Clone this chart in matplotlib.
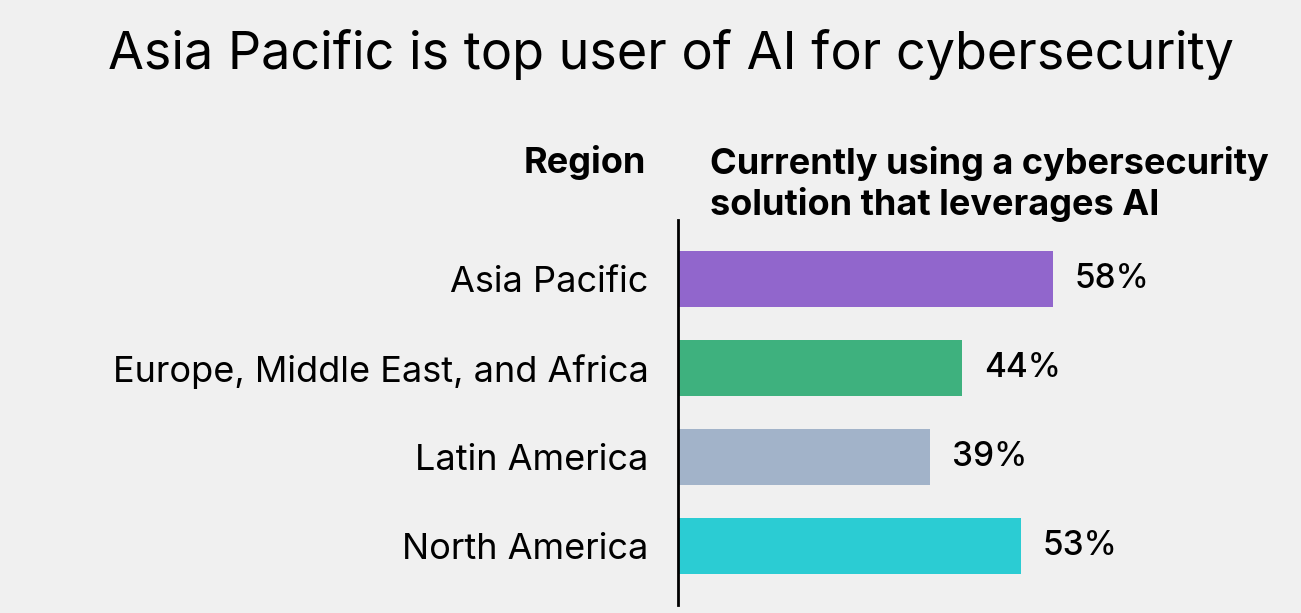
import matplotlib
matplotlib.use("Agg")
import matplotlib.pyplot as plt

regions = ["Asia Pacific", "Europe, Middle East, and Africa", "Latin America", "North America"]
values = [58, 44, 39, 53]
colors = ["#9166CC", "#3EB17E", "#A2B3C9", "#2BCCD3"]
labels = ["58%", "44%", "39%", "53%"]

plt.rcParams['font.family'] = ['Inter', 'DejaVu Sans']
BG = "#F0F0F0"
W, H = 1301, 613
fig = plt.figure(figsize=(W/100, H/100), dpi=100, facecolor=BG)

px_per_unit = 375/58.0
ax_left, ax_right = 678, 1290
ax_top, ax_bot = 220, 605
ax = fig.add_axes([ax_left/W, (H-ax_bot)/H, (ax_right-ax_left)/W, (ax_bot-ax_top)/H])
ax.set_facecolor(BG)
y = list(range(len(regions)))
ax.barh(y, values, height=0.64, color=colors)
ax.set_xlim(0, (ax_right-ax_left)/px_per_unit)
ax.set_ylim(3 + 59/89, -59/89)
for s in ["top", "right", "bottom"]:
    ax.spines[s].set_visible(False)
ax.spines["left"].set_linewidth(2)
ax.spines["left"].set_color("black")
ax.set_xticks([])
ax.set_yticks(y)
ax.set_yticklabels(regions, fontsize=26)
ax.tick_params(axis='y', length=0, pad=21)

for yi, v, lab in zip(y, values, labels):
    ax.annotate(lab, (v, yi), xytext=(22, 0), textcoords="offset pixels",
                va="center", ha="left", fontsize=24, fontweight="medium")

fig.text(0.5 + 20/W, 1 - 55/H, "Asia Pacific is top user of AI for cybersecurity",
         ha="center", va="center", fontsize=37.5)
fig.text(646/W, 1 - 162/H, "Region", ha="right", va="center", fontsize=26, fontweight="bold")
fig.text(710/W, 1 - 184/H, "Currently using a cybersecurity\nsolution that leverages AI",
         ha="left", va="center", fontsize=26, fontweight="bold", linespacing=1.2)

fig.savefig("out.png", dpi=100, facecolor=BG)
